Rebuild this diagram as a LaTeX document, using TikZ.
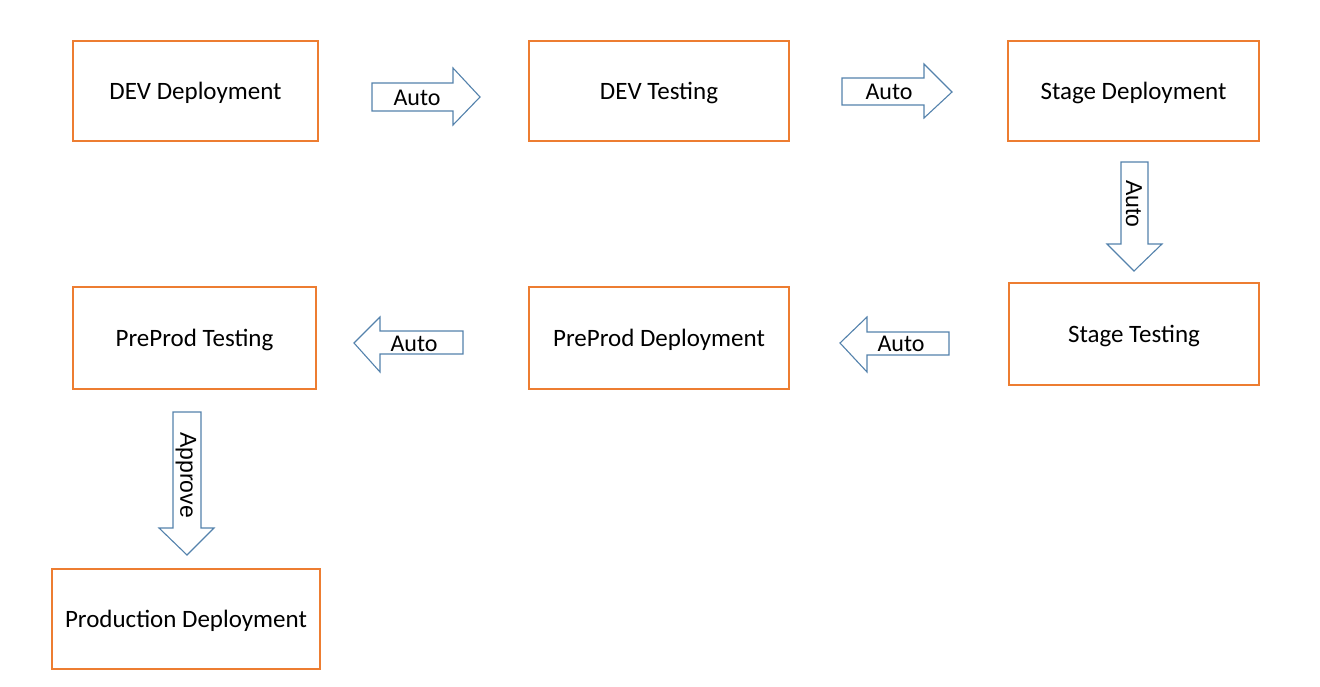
\documentclass[tikz,border=0pt]{standalone}
\usepackage{fontspec}
\setmainfont{Carlito}
\newfontfamily\arialf{Liberation Sans}
\definecolor{boxorange}{RGB}{237,125,49}
\definecolor{arrowblue}{RGB}{84,130,172}
\begin{document}
\begin{tikzpicture}[x=1pt,y=-1pt,
  stagebox/.style={draw=boxorange, line width=1.25pt, inner sep=0pt, text depth=0pt, font=\fontsize{25}{30}\selectfont},
  blockarrow/.style={draw=arrowblue, line width=1.1pt, fill=white, line join=miter},
  hlabel/.style={font=\fontsize{24}{28}\selectfont, inner sep=0pt},
  vlabel/.style={font=\arialf\fontsize{23}{28}\selectfont, inner sep=0pt, rotate=-90}]
\useasboundingbox (0,0) rectangle (1320,687);
% boxes
\node[stagebox, minimum width=245pt, minimum height=100pt] (devdep) at (195.5,91) {DEV Deployment};
\node[stagebox, minimum width=260pt, minimum height=100pt] (devtest) at (659,91) {DEV Testing};
\node[stagebox, minimum width=251pt, minimum height=100pt] (stagedep) at (1133.5,91) {Stage Deployment};
\node[stagebox, minimum width=250pt, minimum height=102pt] (stagetest) at (1134,334) {Stage Testing};
\node[stagebox, minimum width=260pt, minimum height=102pt] (ppdep) at (659,338) {PreProd Deployment};
\node[stagebox, minimum width=243pt, minimum height=102pt] (pptest) at (194.5,338) {PreProd Testing};
\node[stagebox, minimum width=268pt, minimum height=100pt] (proddep) at (186,619) {Production Deployment};
% arrow 1: DEV Deployment -> DEV Testing
\draw[blockarrow] (372,83) -- (453,83) -- (453,68) -- (480,97) -- (453,125) -- (453,111) -- (372,111) -- cycle;
\node[hlabel] (a1) at (417,98) {Auto};
% arrow 2: DEV Testing -> Stage Deployment
\draw[blockarrow] (842,78) -- (924,78) -- (924,64) -- (952,92) -- (924,118) -- (924,105) -- (842,105) -- cycle;
\node[hlabel] (a2) at (889,92) {Auto};
% arrow 3: Stage Deployment -> Stage Testing
\draw[blockarrow] (1121,162) -- (1148,162) -- (1148,244) -- (1162,244) -- (1134,271) -- (1107,244) -- (1121,244) -- cycle;
\node[vlabel] (a3) at (1134,204) {Auto};
% arrow 4: Stage Testing -> PreProd Deployment
\draw[blockarrow] (949,332) -- (867,332) -- (867,317) -- (840,343) -- (867,372) -- (867,355) -- (949,355) -- cycle;
\node[hlabel] (a4) at (901,344) {Auto};
% arrow 5: PreProd Deployment -> PreProd Testing
\draw[blockarrow] (463,331) -- (380,331) -- (380,317) -- (354,343) -- (380,372) -- (380,354) -- (463,354) -- cycle;
\node[hlabel] (a5) at (414,344) {Auto};
% arrow 6: PreProd Testing -> Production Deployment
\draw[blockarrow] (173,412) -- (201,412) -- (201,528) -- (214,528) -- (187,555) -- (159,528) -- (173,528) -- cycle;
\node[vlabel] (a6) at (186,475) {Approve};
\end{tikzpicture}
\end{document}
